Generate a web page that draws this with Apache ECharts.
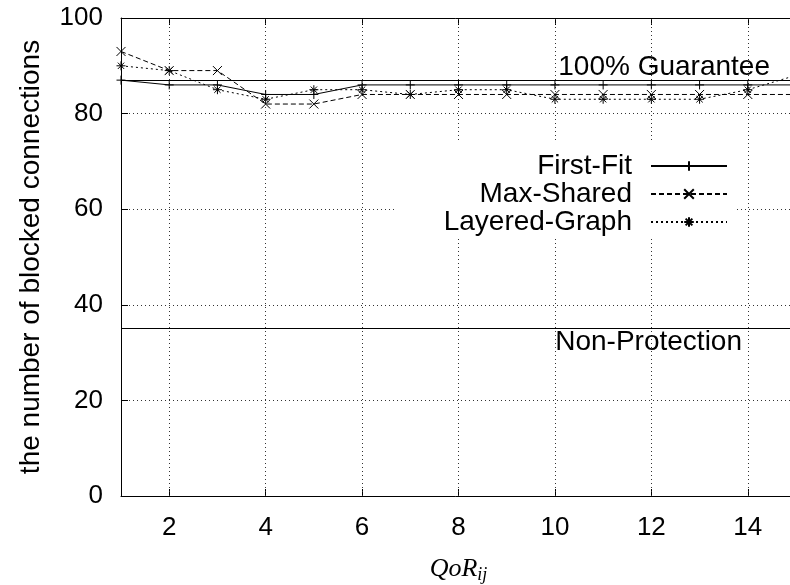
<!DOCTYPE html>
<html>
<head>
<meta charset="utf-8">
<script src="https://cdn.jsdelivr.net/npm/echarts@6/dist/echarts.min.js"></script>
<style>
  html, body { margin: 0; padding: 0; background: #fff; }
  #chart { width: 790px; height: 585px; }
</style>
</head>
<body>
<div id="chart"></div>
<script>
// QoR values along x
const qor = [1, 2, 3, 4, 5, 6, 7, 8, 9, 10, 11, 12, 13, 14, 15];
const firstFit = [87, 86, 86, 84, 84, 86, 86, 86, 86, 86, 86, 86, 86, 86, 86];
const maxShared = [93, 89, 89, 82, 82, 84, 84, 84, 84, 84, 84, 84, 84, 84, 84];
const layeredGraph = [90, 89, 85, 83, 85, 85, 84, 85, 85, 83, 83, 83, 83, 85, 88];

const guaranteeLevel = 87;
const nonProtectionLevel = 35;

const xTicks = [2, 4, 6, 8, 10, 12, 14];

const FONT = '"Liberation Sans", Arial, sans-serif';
const SERIF = '"Liberation Serif", "Times New Roman", serif';
const INK = '#000';

const PLUS = 'path://M0,5L10,5M5,0L5,10';
const CROSS = 'path://M0,0L10,10M10,0L0,10';
const STAR = 'path://M0,5L10,5M5,0L5,10M1.5,1.5L8.5,8.5M8.5,1.5L1.5,8.5';

const toPoints = (values) => values.map((v, i) => [qor[i], v]);

const markerStyle = {
  color: 'transparent',
  borderColor: INK,
  borderWidth: 1,
};

const chart = echarts.init(document.getElementById('chart'), null, { renderer: 'canvas' });

const gridLine = { color: '#333', width: 1, type: [1, 3] };

const option = {
  animation: false,
  backgroundColor: '#fff',
  grid: { left: 121, top: 18, width: 675, height: 478, containLabel: false, outerBoundsMode: 'none' },
  legend: {
    orient: 'vertical',
    align: 'right',
    right: 57,
    top: 147,
    itemWidth: 76,
    itemHeight: 12,
    itemGap: 0,
    textStyle: {
      fontFamily: FONT,
      fontSize: 28,
      color: INK,
      lineHeight: 28,
      padding: [0, 14, 0, 0],
    },
    data: ['First-Fit', 'Max-Shared', 'Layered-Graph'],
  },
  graphic: [
    {
      type: 'rect',
      z: 3,
      shape: { x: 396, y: 140, width: 338, height: 96 },
      style: { fill: '#fff' },
      silent: true,
    },
  ],
  xAxis: [
    {
      type: 'value',
      min: 1,
      max: 15,
      position: 'bottom',
      name: '{a|QoR}{b|ij}',
      nameLocation: 'middle',
      nameGap: 58,
      nameTextStyle: {
        rich: {
          a: { fontFamily: SERIF, fontStyle: 'italic', fontSize: 26, color: INK },
          b: { fontFamily: SERIF, fontStyle: 'italic', fontSize: 18, color: INK, padding: [12, 0, 0, 0] },
        },
      },
      axisLine: { show: true, lineStyle: { color: INK, width: 1 } },
      axisTick: { show: true, inside: true, length: 7, customValues: xTicks, lineStyle: { color: INK } },
      axisLabel: { customValues: xTicks, fontFamily: FONT, fontSize: 26, color: INK, margin: 19 },
      splitLine: { show: false },
    },
    {
      type: 'value',
      min: 1,
      max: 15,
      position: 'top',
      axisLine: { show: true, lineStyle: { color: INK, width: 1 } },
      axisTick: { show: true, inside: true, length: 7, customValues: xTicks, lineStyle: { color: INK } },
      axisLabel: { show: false },
      splitLine: { show: false },
    },
  ],
  yAxis: {
    type: 'value',
    min: 0,
    max: 100,
    interval: 20,
    name: 'the number of blocked connections',
    nameLocation: 'middle',
    nameGap: 76,
    nameTextStyle: { fontFamily: FONT, fontSize: 28, color: INK },
    axisLine: { show: true, lineStyle: { color: INK, width: 1 } },
    axisTick: { show: true, inside: true, length: 7, lineStyle: { color: INK } },
    axisLabel: { fontFamily: FONT, fontSize: 26, color: INK, margin: 18 },
    splitLine: { show: true, lineStyle: gridLine },
  },
  series: [
    {
      name: 'First-Fit',
      type: 'line',
      data: toPoints(firstFit),
      symbol: PLUS,
      symbolSize: 9,
      lineStyle: { color: INK, width: 1 },
      itemStyle: markerStyle,
      z: 5,
      markLine: {
        silent: true,
        symbol: 'none',
        animation: false,
        lineStyle: { color: INK, width: 1, type: 'solid' },
        label: {
          show: true,
          position: 'insideEndTop',
          fontFamily: FONT,
          fontSize: 28,
          color: INK,
          formatter: (p) => p.name,
        },
        data: [
          { name: '100% Guarantee', yAxis: guaranteeLevel, label: { distance: [26, -1] } },
          { name: 'Non-Protection', yAxis: nonProtectionLevel, label: { position: 'insideEndBottom', distance: [54, 0] } },
        ],
      },
    },
    {
      name: 'Max-Shared',
      type: 'line',
      data: toPoints(maxShared),
      symbol: CROSS,
      symbolSize: 9,
      lineStyle: { color: INK, width: 1, type: [5, 3] },
      itemStyle: markerStyle,
      z: 5,
    },
    {
      name: 'Layered-Graph',
      type: 'line',
      data: toPoints(layeredGraph),
      symbol: STAR,
      symbolSize: 9,
      lineStyle: { color: INK, width: 1, type: [2, 3] },
      itemStyle: markerStyle,
      z: 5,
      markLine: {
        silent: true,
        symbol: 'none',
        animation: false,
        z: 1,
        lineStyle: gridLine,
        label: { show: false },
        data: xTicks.map((t) => ({ xAxis: t })),
      },
    },
  ],
};

chart.setOption(option);
</script>
</body>
</html>
